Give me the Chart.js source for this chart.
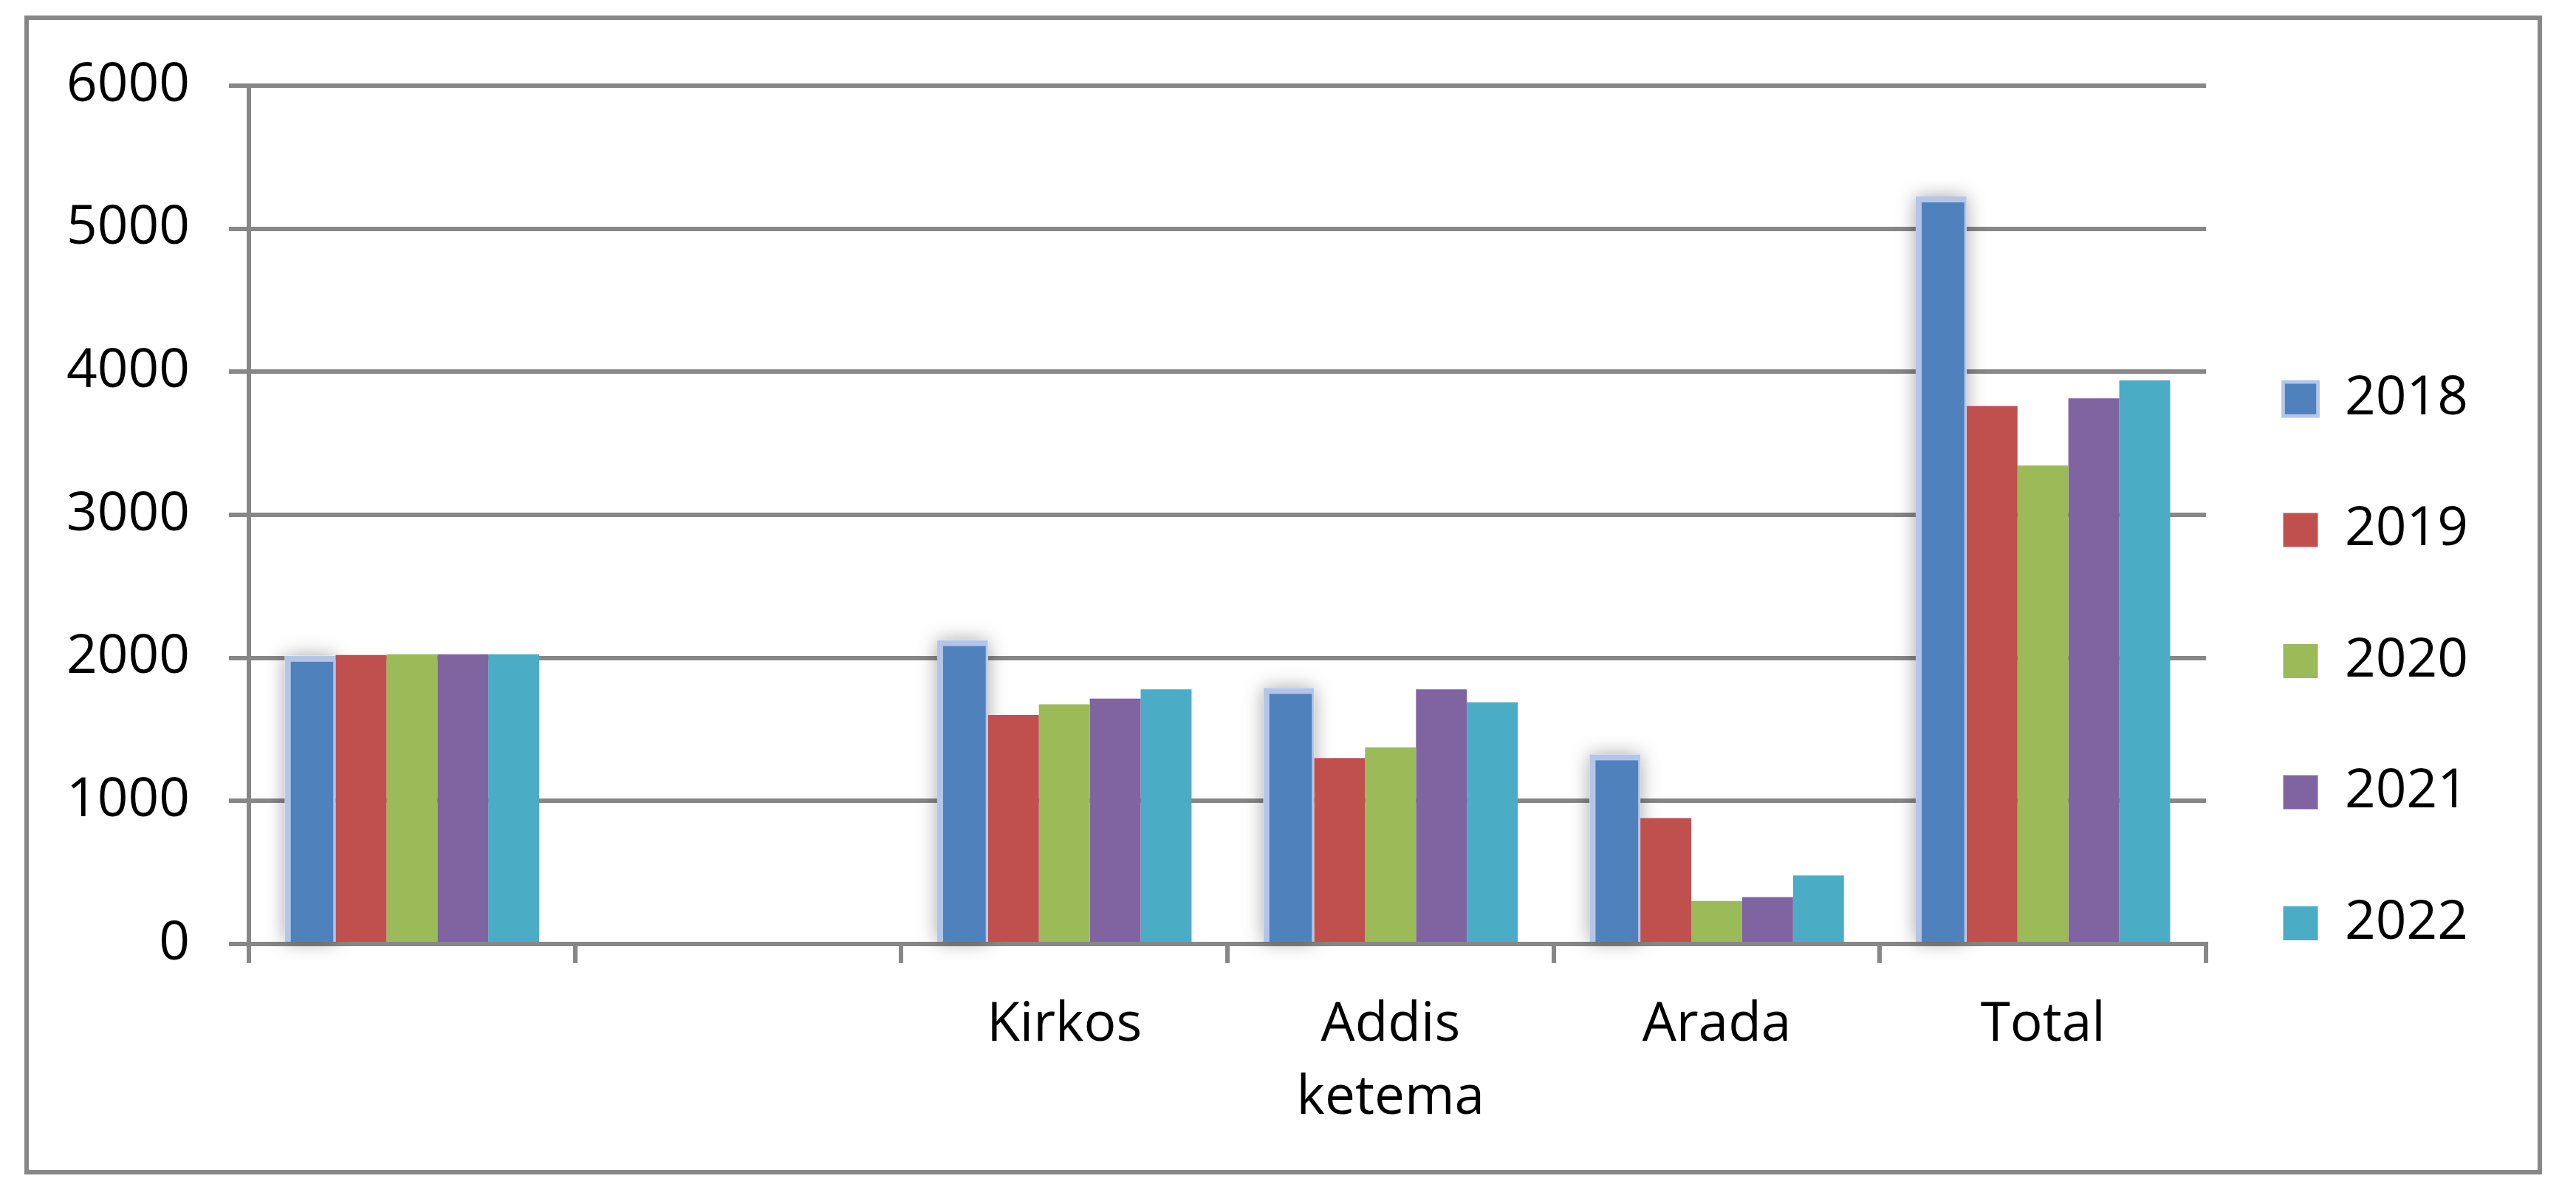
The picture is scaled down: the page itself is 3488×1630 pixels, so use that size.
<!DOCTYPE html>
<html>
<head>
<meta charset="utf-8">
<script src="https://cdn.jsdelivr.net/npm/chart.js@4.4.1/dist/chart.umd.min.js"></script>
<style>
  html, body { margin: 0; padding: 0; background: #fff; }
  canvas { display: block; }
</style>
</head>
<body>
<canvas id="chart" width="3488" height="1630"></canvas>
<script>
// ── Data ─────────────────────────────────────────────────────────
const categories = ['', '', 'Kirkos', ['Addis', 'ketema'], 'Arada', 'Total'];
const years = ['2018', '2019', '2020', '2021', '2022'];

const v2018 = [2015, null, 2125, 1790, 1325, 5225];
const v2019 = [2020, null, 1600, 1300, 880, 3760];
const v2020 = [2025, null, 1675, 1375, 300, 3345];
const v2021 = [2025, null, 1715, 1780, 328, 3815];
const v2022 = [2025, null, 1780, 1690, 478, 3940];

const yTicks = { min: 0, max: 6000, step: 1000 };

const COLORS = ['#4F81BD', '#C0504D', '#9BBB59', '#8064A2', '#4BACC6'];
const AXIS = '#878787';
const FONT = "'Open Sans', 'DejaVu Sans', sans-serif";

// ── Plugins ──────────────────────────────────────────────────────
const frame = {
  id: 'frame',
  beforeDraw(chart) {
    const ctx = chart.ctx;
    ctx.save();
    ctx.strokeStyle = AXIS;
    ctx.lineWidth = 6;
    ctx.strokeRect(36, 24, 3403, 1563);
    ctx.restore();
  }
};

// soft glow behind the highlighted 2018 series
const glow = {
  id: 'glow',
  beforeDatasetsDraw(chart) {
    const ctx = chart.ctx;
    const meta = chart.getDatasetMeta(0);
    ctx.save();
    ctx.shadowColor = 'rgba(0,0,0,0.35)';
    ctx.shadowBlur = 26;
    ctx.fillStyle = '#ffffff';
    meta.data.forEach((bar, i) => {
      if (v2018[i] == null) return;
      const p = bar.getProps(['x', 'y', 'base', 'width'], true);
      ctx.fillRect(p.x - p.width / 2, p.y, p.width, p.base - p.y);
    });
    ctx.restore();
  }
};

// ── Chart ────────────────────────────────────────────────────────
const series = [v2018, v2019, v2020, v2021, v2022];

new Chart(document.getElementById('chart'), {
  type: 'bar',
  data: {
    labels: categories,
    datasets: series.map((vals, i) => ({
      label: years[i],
      data: vals,
      backgroundColor: COLORS[i],
      borderColor: i === 0 ? '#B3C6EA' : COLORS[i],
      borderWidth: i === 0 ? { top: 8, left: 8, right: 3, bottom: 0 } : 0,
      borderSkipped: 'bottom',
      barPercentage: 1,
      categoryPercentage: 0.78
    }))
  },
  options: {
    responsive: false,
    devicePixelRatio: 1,
    animation: false,
    events: [],
    layout: { padding: { left: 37, top: 116, right: 136, bottom: 59 } },
    plugins: {
      tooltip: { enabled: false },
      legend: {
        position: 'right',
        align: 'center',
        maxWidth: 365,
        title: { display: true, text: '', padding: { top: 93, bottom: 0 }, font: { size: 10, lineHeight: 1 } },
        labels: {
          boxWidth: 47,
          boxHeight: 46,
          padding: 104.5,
          color: '#000',
          font: { family: FONT, size: 73 }
        }
      }
    },
    scales: {
      x: {
        grid: {
          drawOnChartArea: false,
          drawTicks: true,
          tickLength: 26,
          color: AXIS,
          lineWidth: 6,
          offset: true
        },
        border: { display: true, color: AXIS, width: 6 },
        ticks: {
          color: '#000',
          padding: 35,
          maxRotation: 0,
          autoSkip: false,
          font: { family: FONT, size: 73, lineHeight: 1.35 }
        }
      },
      y: {
        min: yTicks.min,
        max: yTicks.max,
        grid: { color: AXIS, lineWidth: 6, tickLength: 27 },
        border: { display: true, color: AXIS, width: 6 },
        ticks: {
          stepSize: yTicks.step,
          color: '#000',
          padding: 53,
          font: { family: FONT, size: 73 },
          callback: v => String(v)
        }
      }
    }
  },
  plugins: [frame, glow]
});
</script>
</body>
</html>
